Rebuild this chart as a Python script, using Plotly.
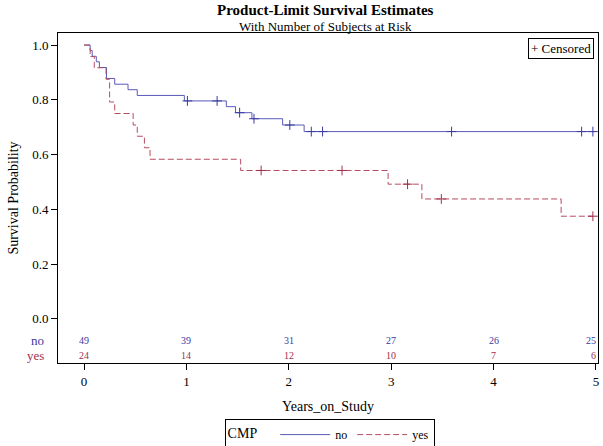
import plotly.graph_objects as go

# --- data ---
no_times = [0, 0.06, 0.08, 0.12, 0.15, 0.22, 0.30, 0.43, 0.52, 0.98, 1.39, 1.48, 1.64, 1.94, 2.15, 5.0]
no_surv = [1.0, 0.980, 0.959, 0.939, 0.918, 0.878, 0.857, 0.837, 0.816, 0.796, 0.775, 0.753, 0.731, 0.708, 0.684, 0.684]
no_cens_t = [1.01, 1.30, 1.52, 1.66, 2.01, 2.22, 2.33, 3.59, 4.86, 4.97]
no_cens_s = [0.796, 0.796, 0.753, 0.731, 0.708, 0.684, 0.684, 0.684, 0.684, 0.684]

yes_times = [0, 0.06, 0.10, 0.215, 0.25, 0.30, 0.48, 0.52, 0.59, 0.645, 1.53, 2.97, 3.30, 4.66, 4.97]
yes_surv = [1.0, 0.958, 0.917, 0.875, 0.792, 0.750, 0.708, 0.667, 0.625, 0.583, 0.542, 0.492, 0.438, 0.375, 0.375]
yes_cens_t = [1.73, 2.52, 3.16, 3.49, 4.97]
yes_cens_s = [0.542, 0.542, 0.492, 0.438, 0.375]

risk_times = [0, 1, 2, 3, 4, 5]
risk_no = [49, 39, 31, 27, 26, 25]
risk_yes = [24, 14, 12, 10, 7, 6]

BLUE_TXT = "#3a3aa2"
RED_TXT = "#a2304a"
BLUE_LN = "#5a5ab8"
RED_LN = "#b54c62"
FONT = "Liberation Serif"

fig = go.Figure()
fig.add_trace(go.Scatter(x=no_times, y=no_surv, mode="lines", line_shape="hv",
                         line=dict(color=BLUE_LN, width=1), name="no"))
fig.add_trace(go.Scatter(x=yes_times, y=yes_surv, mode="lines", line_shape="hv",
                         line=dict(color=RED_LN, width=1, dash="6px,3px"), name="yes"))
fig.add_trace(go.Scatter(x=no_cens_t, y=no_cens_s, mode="markers", showlegend=False,
                         marker=dict(symbol="cross-thin", size=7, line=dict(color=BLUE_TXT, width=1))))
fig.add_trace(go.Scatter(x=yes_cens_t, y=yes_cens_s, mode="markers", showlegend=False,
                         marker=dict(symbol="cross-thin", size=7, line=dict(color=RED_TXT, width=1))))

# at-risk numbers
last = len(risk_times) - 1
for i, (t, n) in enumerate(zip(risk_times, risk_no)):
    fig.add_annotation(x=t if i < last else 5.02, y=-0.077, xref="x", yref="y", text=str(n),
                       showarrow=False, xanchor="center" if i < last else "right",
                       font=dict(family=FONT, size=10, color=BLUE_TXT))
for i, (t, n) in enumerate(zip(risk_times, risk_yes)):
    fig.add_annotation(x=t if i < last else 5.02, y=-0.132, xref="x", yref="y", text=str(n),
                       showarrow=False, xanchor="center" if i < last else "right",
                       font=dict(family=FONT, size=10, color=RED_TXT))
fig.add_annotation(x=-0.022, y=-0.077, xref="paper", yref="y", text="no", showarrow=False,
                   xanchor="right", font=dict(family=FONT, size=13, color=BLUE_TXT))
fig.add_annotation(x=-0.022, y=-0.132, xref="paper", yref="y", text="yes", showarrow=False,
                   xanchor="right", font=dict(family=FONT, size=13, color=RED_TXT))

# titles
fig.add_annotation(x=0.496, y=1.070, xref="paper", yref="paper", yanchor="middle",
                   text="<b>Product-Limit Survival Estimates</b>", showarrow=False,
                   font=dict(family=FONT, size=15, color="black"))
fig.add_annotation(x=0.496, y=1.019, xref="paper", yref="paper", yanchor="middle",
                   text="With Number of Subjects at Risk", showarrow=False,
                   font=dict(family=FONT, size=13, color="black"))

# censored box
fig.add_annotation(x=0.993, y=0.985, xref="paper", yref="paper", text="+ Censored",
                   showarrow=False, xanchor="right", yanchor="top",
                   bordercolor="black", borderwidth=1, borderpad=2, bgcolor="white",
                   font=dict(family=FONT, size=13, color="black"))

fig.update_layout(
    width=603, height=446,
    margin=dict(l=58, r=5, t=33, b=83, autoexpand=False),
    paper_bgcolor="white", plot_bgcolor="white",
    font=dict(family=FONT, size=13, color="black"),
    xaxis=dict(range=[-0.254, 5.02], tickvals=[0, 1, 2, 3, 4, 5], ticks="outside", ticklen=6,
               tickcolor="black", showline=True, linecolor="black", linewidth=1, mirror=True,
               showgrid=False, zeroline=False, automargin=False,
               title=dict(text="Years_on_Study", standoff=13, font=dict(family=FONT, size=14)),
               tickfont=dict(family=FONT, size=13)),
    yaxis=dict(range=[-0.161, 1.044], tickvals=[0, 0.2, 0.4, 0.6, 0.8, 1.0], tickformat=".1f",
               ticks="outside", ticklen=6, tickcolor="black", showline=True, linecolor="black",
               linewidth=1, mirror=True, showgrid=False, zeroline=False, automargin=False,
               title=dict(text="Survival Probability", standoff=10, font=dict(family=FONT, size=14)),
               tickfont=dict(family=FONT, size=13)),
    legend=dict(orientation="h", x=0.503, xanchor="center", y=-0.17, yanchor="top",
                title=dict(text="CMP   ", font=dict(family=FONT, size=14)),
                bordercolor="black", borderwidth=1, bgcolor="white",
                font=dict(family=FONT, size=12), itemwidth=50, tracegroupgap=0),
    showlegend=True,
)

fig.write_html("out.html", config={"displayModeBar": False},
               post_script="document.body.style.margin='0';")
